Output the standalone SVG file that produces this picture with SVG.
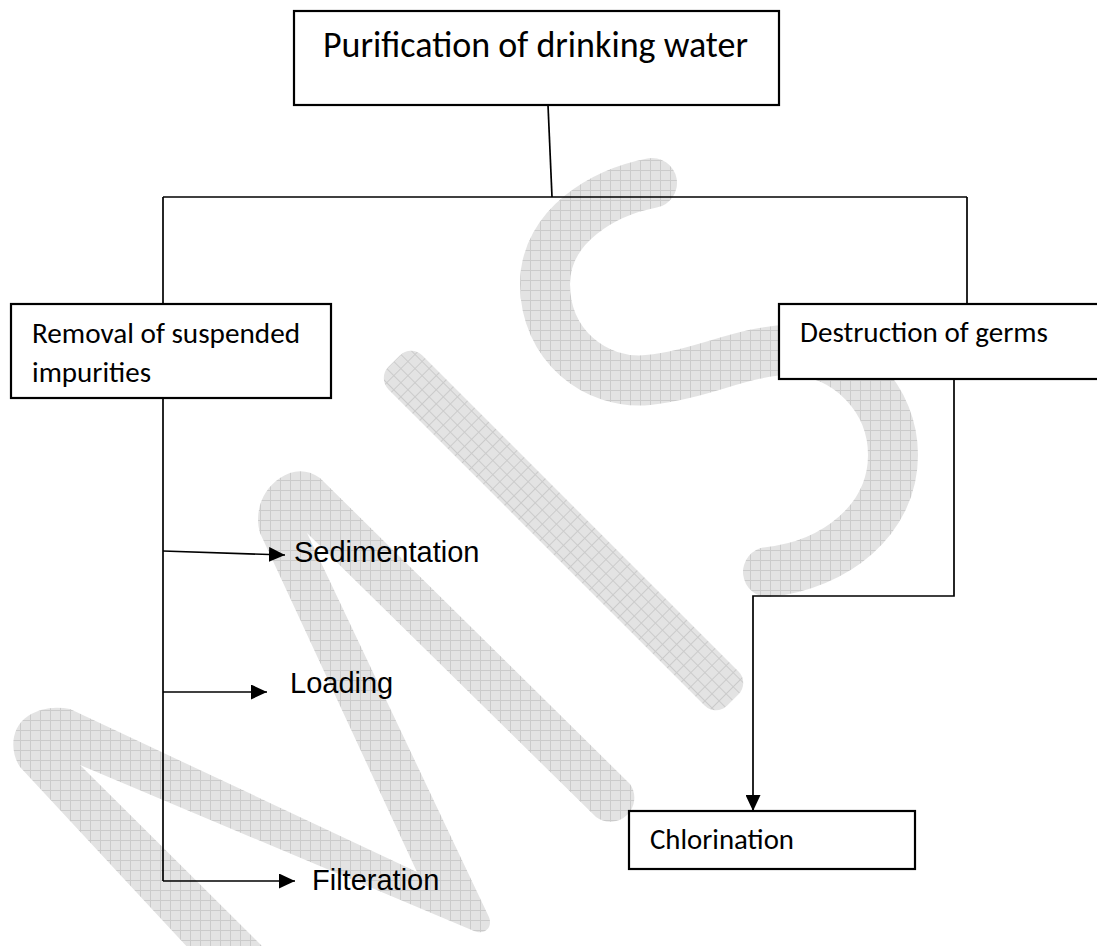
<svg xmlns="http://www.w3.org/2000/svg" width="1097" height="946" viewBox="0 0 1097 946">
  <style>
    .box { fill: #ffffff; stroke: #000000; stroke-width: 2.2; }
    .cal { font-family: Carlito, Lato, "Liberation Sans", sans-serif; fill: #000000; }
    .ari { font-family: "Liberation Sans", Arial, sans-serif; font-size: 29px; fill: #000000; }
    .ln { fill: none; stroke: #000000; stroke-width: 1.7; }
    .wm { fill: url(#grid); }
  </style>
  <defs>
    <pattern id="grid" width="10" height="10" patternUnits="userSpaceOnUse">
      <rect width="10" height="10" fill="#e3e3e3"/>
      <path d="M0,0.5 H10 M0.5,0 V10" stroke="#cbcbcb" stroke-width="1"/>
    </pattern>
    <marker id="arrow" markerUnits="userSpaceOnUse" markerWidth="16" markerHeight="15" refX="16" refY="7.5" orient="auto">
      <path d="M0,0 L16,7.5 L0,15 Z" fill="#000000"/>
    </marker>
  </defs>

  <rect width="1097" height="946" fill="#ffffff"/>

  <g id="watermark">
    <path class="wm" d="M190,950 L20,767 C10,752 10,728 28,716 C40,708 55,706 70,709 L417,872 L260,533 C254,512 262,490 280,478 C292,470 306,468 320,478 L630,784 A24,24 0 0 1 596,817 L307,533 L488,915 C494,926 486,936 474,931 L80,765 L266,950 Z"/>
    <rect class="wm" x="-239.5" y="-24" width="479" height="48" rx="16" transform="translate(563.5,530.5) rotate(45)"/>
    <path d="M652,183 C605,192 545,225 545,284 C545,345 595,385 648,380 C700,375 745,350 790,350 C850,352 893,400 893,455 C893,520 835,565 768,572" fill="none" stroke="url(#grid)" stroke-width="50" stroke-linecap="round"/>
  </g>

  <g id="connectors">
    <path class="ln" d="M548,105 L552,197"/>
    <path class="ln" d="M163,197 H967"/>
    <path class="ln" d="M163,197 V304"/>
    <path class="ln" d="M967,197 V304"/>
    <path class="ln" d="M163,398 V881"/>
    <path class="ln" d="M163,551 L285,555" marker-end="url(#arrow)"/>
    <path class="ln" d="M163,692 H267" marker-end="url(#arrow)"/>
    <path class="ln" d="M163,881 H295" marker-end="url(#arrow)"/>
    <path class="ln" d="M954,380 V596 H753 V811" marker-end="url(#arrow)"/>
  </g>

  <g id="node-title">
    <rect class="box" x="294" y="11" width="485" height="94"/>
    <text class="cal" x="323" y="57" font-size="36" textLength="425" lengthAdjust="spacingAndGlyphs">Purification of drinking water</text>
  </g>

  <g id="node-removal">
    <rect class="box" x="11" y="304" width="320" height="94"/>
    <text class="cal" x="32" y="343" font-size="29" textLength="268" lengthAdjust="spacingAndGlyphs">Removal of suspended</text>
    <text class="cal" x="32" y="382" font-size="29" textLength="119" lengthAdjust="spacingAndGlyphs">impurities</text>
  </g>

  <g id="node-destruction">
    <rect class="box" x="779" y="304" width="330" height="75"/>
    <text class="cal" x="800" y="342" font-size="29" textLength="248" lengthAdjust="spacingAndGlyphs">Destruction of germs</text>
  </g>

  <g id="node-chlorination">
    <rect class="box" x="629" y="811" width="286" height="58"/>
    <text class="cal" x="650" y="849" font-size="29" textLength="144" lengthAdjust="spacingAndGlyphs">Chlorination</text>
  </g>

  <g id="node-sedimentation">
    <text class="ari" x="294" y="562">Sedimentation</text>
  </g>
  <g id="node-loading">
    <text class="ari" x="290" y="693">Loading</text>
  </g>
  <g id="node-filteration">
    <text class="ari" x="312" y="890">Filteration</text>
  </g>
</svg>
